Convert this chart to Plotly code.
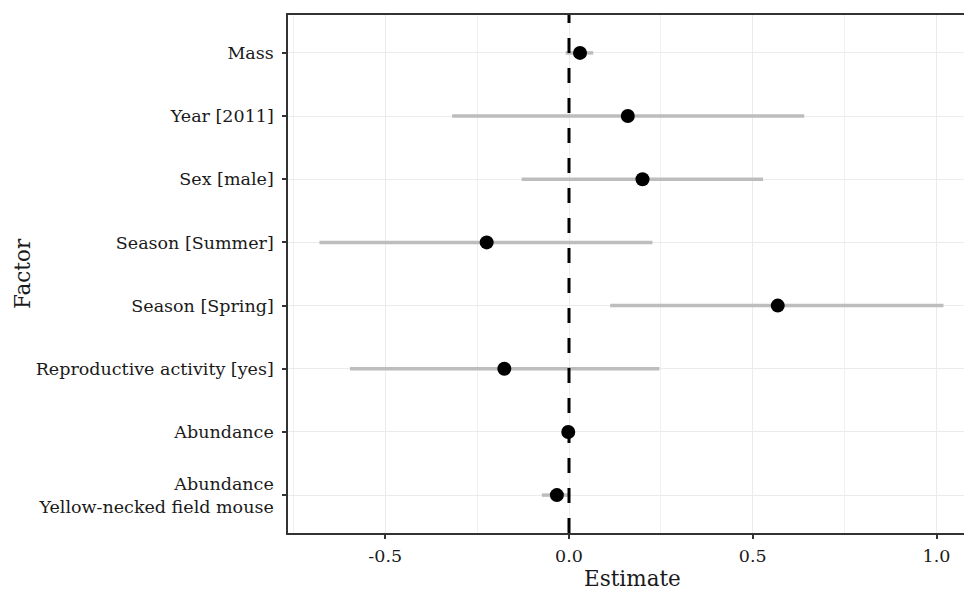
import plotly.graph_objects as go

factors = ["Mass", "Year [2011]", "Sex [male]", "Season [Summer]", "Season [Spring]",
           "Reproductive activity [yes]", "Abundance", "Abundance<br>Yellow-necked field mouse"]
estimate = [0.030, 0.160, 0.200, -0.224, 0.568, -0.176, -0.002, -0.033]
ci_low = [-0.009, -0.318, -0.129, -0.679, 0.112, -0.596, -0.006, -0.074]
ci_high = [0.066, 0.640, 0.528, 0.227, 1.019, 0.246, 0.003, 0.004]
x_ticks = [-0.5, 0.0, 0.5, 1.0]
x_tick_labels = ["-0.5", "0.0", "0.5", "1.0"]
x_title = "Estimate"
y_title = "Factor"
ref_value = 0.0

n = len(factors)
ypos = [n - 1 - i for i in range(n)]

FONT = "DejaVu Serif"
fig = go.Figure()

# CI segments
cx, cy = [], []
for lo, hi, y in zip(ci_low, ci_high, ypos):
    cx += [lo, hi, None]
    cy += [y, y, None]
fig.add_trace(go.Scatter(x=cx, y=cy, mode="lines",
                         line=dict(color="#bdbdbd", width=3.5), hoverinfo="skip", showlegend=False))

# reference line
fig.add_trace(go.Scatter(x=[ref_value, ref_value], y=[-0.6, n - 0.4], mode="lines",
                         line=dict(color="black", width=3, dash="15px,15px"),
                         hoverinfo="skip", showlegend=False))

fig.add_trace(go.Scatter(x=estimate, y=ypos, mode="markers",
                         marker=dict(color="black", size=14), showlegend=False))

fig.update_layout(
    width=964, height=592,
    margin=dict(l=288, r=0, t=15, b=59),
    plot_bgcolor="white", paper_bgcolor="white",
    font=dict(family=FONT, size=17.5, color="#1a1a1a"),
    xaxis=dict(
        range=[-0.7646, 1.0748], tickvals=x_ticks, ticktext=x_tick_labels,
        showgrid=True, gridcolor="#ebebeb", gridwidth=1.2,
        minor=dict(tickvals=[-0.75, -0.25, 0.25, 0.75], showgrid=True, gridcolor="#f0f0f0", gridwidth=0.8),
        showline=True, linecolor="#333333", linewidth=1.5, mirror=True,
        ticks="outside", ticklen=4, tickcolor="#333333", tickwidth=1.5,
        ticklabelstandoff=2,
        zeroline=False, automargin=False,
        tickfont=dict(size=17.5, family=FONT),
    ),
    yaxis=dict(
        range=[-0.6, n - 0.4], tickvals=ypos, ticktext=factors,
        showgrid=True, gridcolor="#ebebeb", gridwidth=1.2,
        showline=True, linecolor="#333333", linewidth=1.5, mirror=False,
        ticks="outside", ticklen=4, tickcolor="#333333", tickwidth=1.5,
        ticklabelstandoff=5,
        zeroline=False, automargin=False,
        tickfont=dict(size=17.5, family=FONT),
    ),
    annotations=[
        dict(text=x_title, xref="paper", yref="paper", x=0.5096, y=-0.0869,
             xanchor="center", yanchor="middle", showarrow=False,
             font=dict(size=21.5, family=FONT, color="#1a1a1a")),
        dict(text=y_title, xref="paper", yref="paper", x=-0.3928, y=0.501,
             xanchor="center", yanchor="middle", textangle=-90, showarrow=False,
             font=dict(size=21.5, family=FONT, color="#1a1a1a")),
    ],
)

fig.write_html("out.html", config={"displayModeBar": False},
               post_script="document.body.style.margin='0';")
